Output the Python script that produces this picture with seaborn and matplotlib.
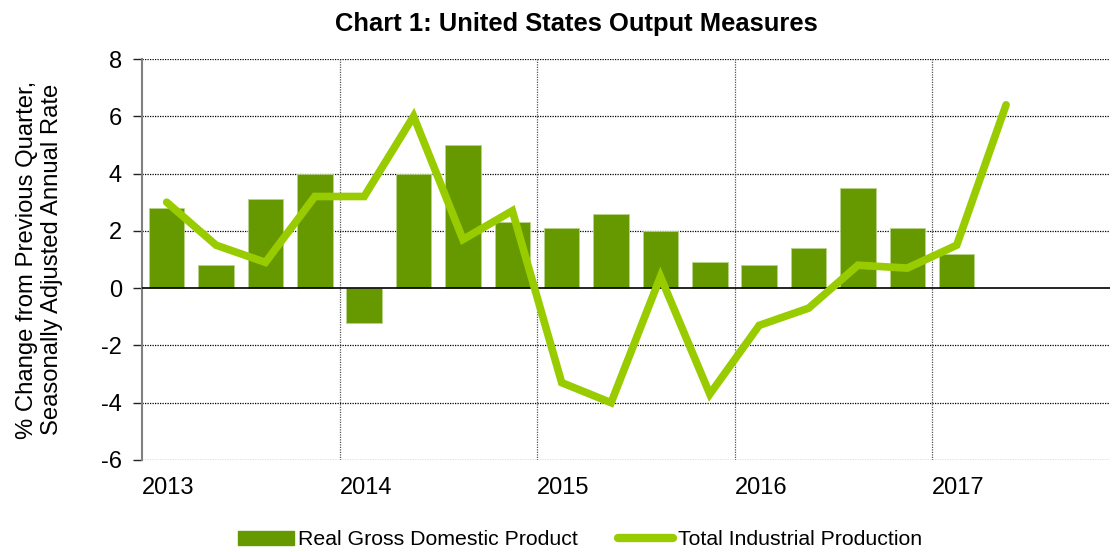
import numpy as np
import pandas as pd
import matplotlib
matplotlib.use("Agg")
import matplotlib.pyplot as plt
import seaborn as sns
from matplotlib.patches import Patch
from matplotlib.lines import Line2D

# Data
quarters = ["2013Q1", "2013Q2", "2013Q3", "2013Q4",
            "2014Q1", "2014Q2", "2014Q3", "2014Q4",
            "2015Q1", "2015Q2", "2015Q3", "2015Q4",
            "2016Q1", "2016Q2", "2016Q3", "2016Q4",
            "2017Q1", "2017Q2"]
gdp = [2.8, 0.8, 3.1, 4.0, -1.2, 4.0, 5.0, 2.3, 2.1, 2.6, 2.0, 0.9,
       0.8, 1.4, 3.5, 2.1, 1.2]
ip = [3.0, 1.5, 0.9, 3.2, 3.2, 6.0, 1.7, 2.7, -3.3, -4.0, 0.4, -3.7,
      -1.3, -0.7, 0.8, 0.7, 1.5, 6.4]
years = ["2013", "2014", "2015", "2016", "2017"]
yticks = [-6, -4, -2, 0, 2, 4, 6, 8]

bar_color = "#669900"
line_color = "#99CC00"

sns.set_theme(style="white")
plt.rcParams["font.family"] = ["Liberation Sans", "DejaVu Sans"]
plt.rcParams["text.color"] = "black"
plt.rcParams["axes.labelcolor"] = "black"
plt.rcParams["xtick.color"] = "black"
plt.rcParams["ytick.color"] = "black"

fig = plt.figure(figsize=(11.12, 5.52), dpi=100)
ax = fig.add_axes([0.1277, 0.1667, 0.8703, 0.7264])

xpos_bar = np.arange(len(gdp)) + 0.5
xpos_line = np.arange(len(ip)) + 0.5
df_bar = pd.DataFrame({"x": xpos_bar, "v": gdp})
df_line = pd.DataFrame({"x": xpos_line, "v": ip})

# grid
for y in yticks:
    if y != 0:
        ax.axhline(y, color="black", lw=0.9, ls=(0, (1, 1)), zorder=0)
for i in range(1, len(years)):
    ax.axvline(i * 4, color="#555555", lw=0.9, ls=(0, (1, 1)), zorder=0)

sns.barplot(data=df_bar, x="x", y="v", native_scale=True, width=0.72,
            color=bar_color, saturation=1, edgecolor="#b8d48a", linewidth=0.6,
            ax=ax, zorder=2)
ax.axhline(0, color="black", lw=1.2, zorder=3)
sns.lineplot(data=df_line, x="x", y="v", color=line_color, lw=5.5,
             ax=ax, zorder=4, solid_capstyle="round", solid_joinstyle="miter")

ax.set_xlim(0, 19.6)
ax.set_ylim(-6, 8)
ax.set_yticks(yticks)
ax.set_yticklabels([str(v) for v in yticks])
ax.set_xticks([i * 4 for i in range(len(years))])
ax.set_xticklabels(years, ha="left")
ax.tick_params(axis="x", length=0, pad=12, labelsize=17)
ax.tick_params(axis="y", length=6.5, width=1.0, color="#222222", labelsize=17,
               left=True, direction="out", pad=8)
ax.set_xlabel("")
ax.set_ylabel("% Change from Previous Quarter,\nSeasonally Adjusted Annual Rate",
              fontsize=17.2, labelpad=27)

for s in ["top", "right", "bottom"]:
    ax.spines[s].set_visible(False)
ax.spines["left"].set_color("#808080")
ax.spines["left"].set_linewidth(1.5)

fig.text(0.518, 0.957, "Chart 1: United States Output Measures", fontsize=18.4,
         fontweight="bold", ha="center", va="center")

handles = [Patch(facecolor=bar_color, edgecolor=bar_color),
           Line2D([0], [0], color=line_color, lw=6, solid_capstyle="round")]
fig.legend(handles, ["Real Gross Domestic Product", "Total Industrial Production"],
           loc="lower center", bbox_to_anchor=(0.5216, -0.03), ncol=2,
           frameon=False, fontsize=15.3, handlelength=2.6, handleheight=0.6,
           columnspacing=1.9, handletextpad=0.2)

fig.savefig("out.png", dpi=100)
